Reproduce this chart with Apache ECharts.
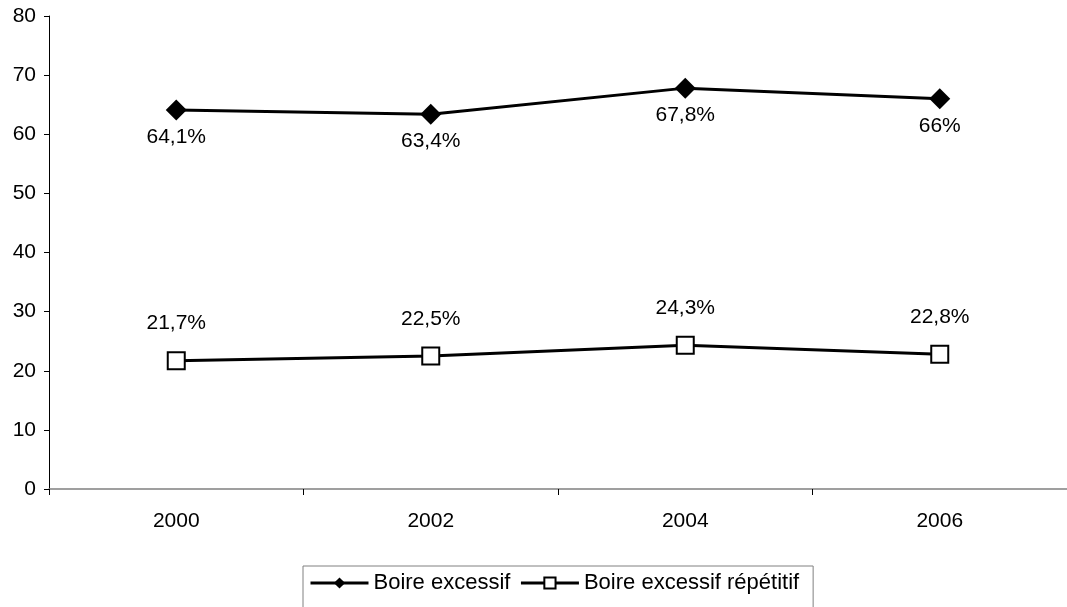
<!DOCTYPE html>
<html>
<head>
<meta charset="utf-8">
<script src="https://cdn.jsdelivr.net/npm/echarts@6/dist/echarts.min.js"></script>
<style>
  html, body { margin: 0; padding: 0; background: #fff; }
  #chart { width: 1067px; height: 607px; }
</style>
</head>
<body>
<div id="chart"></div>
<script>
// Years on the horizontal axis
const years = ['2000', '2002', '2004', '2006'];
// Share of drinkers (%)
const boireExcessif = [64.1, 63.4, 67.8, 66];
const boireExcessifRepetitif = [21.7, 22.5, 24.3, 22.8];
const seriesNames = ['Boire excessif', 'Boire excessif répétitif'];

const FONT = '"Liberation Sans", Arial, sans-serif';
const fmt = p => String(p.value).replace('.', ',') + '%';
const diamond = 'path://M0,-1 L1,0 L0,1 L-1,0 Z';

const chart = echarts.init(document.getElementById('chart'), null, { renderer: 'canvas' });
chart.setOption({
  animation: false,
  backgroundColor: '#ffffff',
  textStyle: { fontFamily: FONT },
  grid: { left: 49, top: 16, width: 1024, height: 473, containLabel: false },
  legend: {
    left: 303,
    top: 566,
    itemWidth: 58,
    itemHeight: 14,
    itemGap: 9,
    padding: [6, 14, 40, 6],
    borderColor: '#808080',
    borderWidth: 1,
    lineStyle: { width: 3, color: '#000' },
    textStyle: { fontFamily: FONT, fontSize: 22, color: '#000' },
    data: seriesNames
  },
  xAxis: {
    type: 'category',
    data: years,
    boundaryGap: true,
    axisLine: { lineStyle: { color: '#808080', width: 1.5 } },
    axisTick: { show: true, alignWithLabel: false, length: 6, lineStyle: { color: '#000' } },
    axisLabel: { fontFamily: FONT, fontSize: 21, color: '#000', margin: 22 },
    splitLine: { show: false }
  },
  yAxis: {
    type: 'value',
    min: 0,
    max: 80,
    interval: 10,
    axisLine: { show: true, lineStyle: { color: '#000', width: 1 } },
    axisTick: { show: true, length: 5, lineStyle: { color: '#000' } },
    axisLabel: { fontFamily: FONT, fontSize: 21, color: '#000', margin: 13 },
    splitLine: { show: false }
  },
  series: [
    {
      name: seriesNames[0],
      type: 'line',
      data: boireExcessif,
      symbol: diamond,
      symbolSize: 21,
      itemStyle: { color: '#000', borderColor: '#000', borderWidth: 0 },
      lineStyle: { color: '#000', width: 3 },
      label: {
        show: true, position: 'bottom', distance: 6,
        formatter: fmt, fontFamily: FONT, fontSize: 21, color: '#000'
      }
    },
    {
      name: seriesNames[1],
      type: 'line',
      data: boireExcessifRepetitif,
      symbol: 'rect',
      symbolSize: 17,
      itemStyle: { color: '#fff', borderColor: '#000', borderWidth: 2 },
      lineStyle: { color: '#000', width: 3 },
      label: {
        show: true, position: 'top', distance: 17,
        formatter: fmt, fontFamily: FONT, fontSize: 21, color: '#000'
      }
    }
  ]
});
</script>
</body>
</html>
